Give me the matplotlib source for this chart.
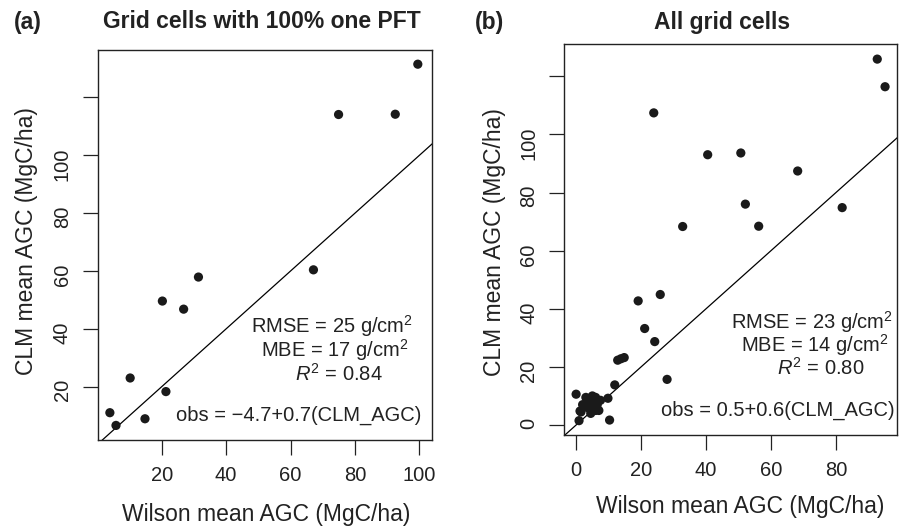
import matplotlib
matplotlib.use("Agg")
import matplotlib.pyplot as plt

plt.rcParams['font.family'] = ['Liberation Sans', 'DejaVu Sans']
plt.rcParams['mathtext.fontset'] = 'custom'
plt.rcParams['mathtext.rm'] = 'Liberation Sans'
plt.rcParams['mathtext.it'] = 'Liberation Sans:italic'

# (a) grid cells with 100% one PFT
wilson_a = [3.9, 5.8, 10.2, 14.8, 21.3, 20.2, 26.8, 31.4, 67.1, 74.9, 92.5, 99.5]
clm_a = [11.0, 6.6, 23.0, 8.9, 18.3, 49.6, 46.8, 57.9, 60.4, 114.1, 114.2, 131.5]

# (b) all grid cells
wilson_b = [92.7, 95.1, 23.9, 40.5, 50.7, 68.2, 52.1, 81.9, 32.8, 56.2,
            19.1, 25.9, 21.1, 24.2, 28.0, 12.8, 13.8, 14.8, 11.9, 9.8,
            10.3, 0.0, 0.9, 1.2,
            1.5, 2.0, 3.0, 3.5, 4.0, 4.5, 5.0, 5.0, 5.5, 6.0, 6.5, 7.0, 7.5, 4.0, 6.0]
clm_b = [125.9, 116.4, 107.4, 93.0, 93.6, 87.4, 76.0, 74.8, 68.3, 68.4,
         42.7, 44.9, 33.2, 28.7, 15.7, 22.3, 22.8, 23.2, 13.8, 9.2,
         1.7, 10.6, 1.5, 4.8,
         4.5, 7.0, 9.5, 6.0, 9.0, 4.0, 8.0, 10.0, 6.5, 9.5, 7.0, 5.0, 8.5, 7.5, 5.0]

stats_a = ["RMSE = 25 g/cm$^2$", "MBE = 17 g/cm$^2$", "$R^2$ = 0.84", "obs = \u22124.7+0.7(CLM_AGC)"]
stats_b = ["RMSE = 23 g/cm$^2$", "MBE = 14 g/cm$^2$", "$R^2$ = 0.80", "obs = 0.5+0.6(CLM_AGC)"]

fig = plt.figure(figsize=(9.04, 5.26), dpi=100)
ax_a = fig.add_axes([0.108, 0.1635, 0.3695, 0.7414])
ax_b = fig.add_axes([0.624, 0.173, 0.3687, 0.7428])


def style_panel(ax, x, y, xlim, ylim, xticks, yticks, ylabels, stats, text_x, text_y, xlab_pos, ylab_pos):
    ax.scatter(x, y, s=44, color='#1a1a1a', edgecolors='none', zorder=3)
    ax.plot([-50, 200], [-50, 200], color='black', lw=0.9)
    ax.set_xlim(*xlim)
    ax.set_ylim(*ylim)
    ax.set_xticks(xticks)
    ax.set_yticks(yticks)
    ax.set_yticklabels(ylabels)
    ax.tick_params(axis='both', direction='out', length=10.5, width=0.9,
                   labelsize=14.5, pad=8, color='#222222', labelcolor='#222222')
    ax.tick_params(axis='y', labelrotation=90)
    for sp in ax.spines.values():
        sp.set_linewidth(1.0)
        sp.set_color('#222222')
    ax.set_xlabel('Wilson mean AGC (MgC/ha)', fontsize=16.5, color='#222222')
    ax.set_ylabel('CLM mean AGC (MgC/ha)', fontsize=16.5, color='#222222')
    ax.xaxis.set_label_coords(*xlab_pos)
    ax.xaxis.label.set_va('center')
    ax.yaxis.set_label_coords(*ylab_pos)
    ax.yaxis.label.set_va('center')
    for s, tx, ty in zip(stats, text_x, text_y):
        ax.text(tx, ty, s, transform=ax.transAxes, ha='right', va='center',
                fontsize=14.5, color='#222222')


style_panel(ax_a, wilson_a, clm_a, (0.1, 103.8), (1.56, 136.4),
            [20, 40, 60, 80, 100], [20, 40, 60, 80, 100, 120],
            ['20', '40', '60', '80', '100', ''], stats_a,
            [0.945, 0.930, 0.855, 0.970], [0.292, 0.230, 0.170, 0.064],
            (0.506, -0.192), (-0.212, 0.51))

style_panel(ax_b, wilson_b, clm_b, (-3.7, 98.9), (-3.44, 131.0),
            [0, 20, 40, 60, 80], [0, 20, 40, 60, 80, 100, 120],
            ['0', '20', '40', '60', '80', '100', ''], stats_b,
            [0.988, 0.973, 0.901, 0.993], [0.290, 0.229, 0.172, 0.064],
            (0.528, -0.184), (-0.209, 0.493))

fig.text(28 / 904, 1 - 22 / 526, '(a)', fontsize=16.5, fontweight='bold', ha='center', va='center', color='#222222')
fig.text(262 / 904, 1 - 22 / 526, 'Grid cells with 100% one PFT', fontsize=16.5, fontweight='bold',
         ha='center', va='center', color='#222222')
fig.text(490 / 904, 1 - 22 / 526, '(b)', fontsize=16.5, fontweight='bold', ha='center', va='center', color='#222222')
fig.text(722 / 904, 1 - 22 / 526, 'All grid cells', fontsize=16.5, fontweight='bold',
         ha='center', va='center', color='#222222')

fig.savefig('out.png', dpi=100)
